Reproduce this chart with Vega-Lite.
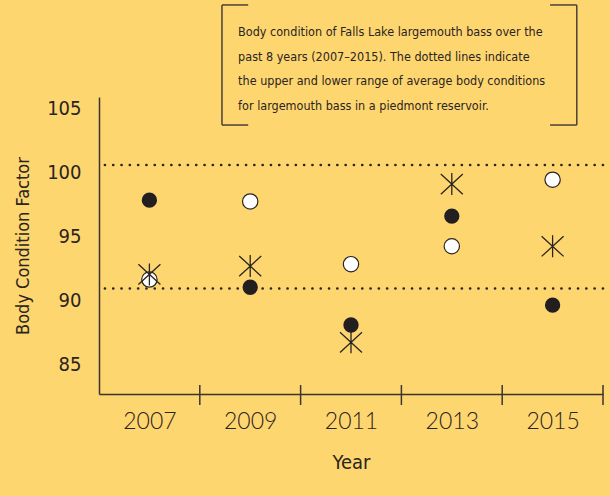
{
  "$schema": "https://vega.github.io/schema/vega-lite/v6.json",
  "autosize": {"type": "none"},
  "width": 504,
  "height": 297,
  "padding": {"left": 99, "top": 97, "right": 7, "bottom": 102},
  "background": "#FED670",
  "config": {
    "view": {"stroke": null},
    "axis": {"grid": false}
  },
  "datasets": {
    "points": [
      {"year": 2007, "type": "filled", "value": 97.8},
      {"year": 2007, "type": "open", "value": 91.6},
      {"year": 2007, "type": "asterisk", "value": 92.0},
      {"year": 2009, "type": "filled", "value": 91.0},
      {"year": 2009, "type": "open", "value": 97.7},
      {"year": 2009, "type": "asterisk", "value": 92.65},
      {"year": 2011, "type": "filled", "value": 88.05},
      {"year": 2011, "type": "open", "value": 92.8},
      {"year": 2011, "type": "asterisk", "value": 86.7},
      {"year": 2013, "type": "filled", "value": 96.56},
      {"year": 2013, "type": "open", "value": 94.2},
      {"year": 2013, "type": "asterisk", "value": 99.06},
      {"year": 2015, "type": "filled", "value": 89.6},
      {"year": 2015, "type": "open", "value": 99.4},
      {"year": 2015, "type": "asterisk", "value": 94.2}
    ],
    "range": [{"bound": "upper", "value": 100.55}, {"bound": "lower", "value": 90.9}],
    "ticks": [{"year": 2008, "top": 83.36, "bottom": 81.8}, {"year": 2010, "top": 83.36, "bottom": 81.8}, {"year": 2012, "top": 83.36, "bottom": 81.8}, {"year": 2014, "top": 83.36, "bottom": 81.8}, {"year": 2016, "top": 83.36, "bottom": 81.8}],
    "bracket": [
      {"x": 2008.44, "x2": 2008.44, "y": 113.05, "y2": 103.67},
      {"x": 2008.44, "x2": 2008.96, "y": 113.05, "y2": 113.05},
      {"x": 2008.44, "x2": 2008.96, "y": 103.67, "y2": 103.67},
      {"x": 2015.48, "x2": 2015.48, "y": 113.05, "y2": 103.67},
      {"x": 2014.95, "x2": 2015.48, "y": 113.05, "y2": 113.05},
      {"x": 2014.95, "x2": 2015.48, "y": 103.67, "y2": 103.67}
    ],
    "note": [
      {"x": 2008.76, "y": 111.4, "text": ["Body condition of Falls Lake largemouth bass over the", "past 8 years (2007\u20132015). The dotted lines indicate", "the upper and lower range of average body conditions", "for largemouth bass in a piedmont reservoir."]}
    ]
  },
  "layer": [
    {
      "data": {"name": "points"},
      "transform": [{"filter": "datum.type === 'filled'"}],
      "mark": {"type": "point", "shape": "circle", "filled": true, "size": 235, "fill": "#231f20", "opacity": 1},
      "encoding": {
        "x": {
          "field": "year", "type": "quantitative",
          "scale": {"domain": [2006, 2016], "nice": false, "zero": false},
          "axis": {
            "values": [2007, 2009, 2011, 2013, 2015],
            "format": "d",
            "ticks": false,
            "domainColor": "#3a3530", "domainWidth": 1.5,
            "labelFont": "Lato", "labelFontWeight": 300, "labelFontSize": 23, "labelColor": "#2a2420",
            "labelPadding": 16,
            "title": "Year", "titleFont": "DejaVu Sans Condensed", "titleFontWeight": "normal",
            "titleFontSize": 20, "titleColor": "#2a2420", "titlePadding": 19
          }
        },
        "y": {
          "field": "value", "type": "quantitative",
          "scale": {"domain": [82.66, 105.86], "nice": false, "zero": false},
          "axis": {
            "values": [85, 90, 95, 100, 105],
            "ticks": false,
            "domainColor": "#3a3530", "domainWidth": 1.5,
            "labelFont": "DejaVu Sans Condensed", "labelFontSize": 20, "labelColor": "#2a2420",
            "labelPadding": 18,
            "title": "Body Condition Factor", "titleFont": "DejaVu Sans Condensed", "titleFontWeight": "normal",
            "titleFontSize": 18, "titleColor": "#2a2420", "titlePadding": 14
          }
        }
      }
    },
    {
      "data": {"name": "range"},
      "mark": {"type": "rule", "strokeDash": [0.1, 8.2], "strokeCap": "round", "strokeWidth": 2.6, "stroke": "#2a2420"},
      "encoding": {"y": {"field": "value", "type": "quantitative"}}
    },
    {
      "data": {"name": "ticks"},
      "mark": {"type": "rule", "strokeWidth": 1.5, "stroke": "#3a3530", "clip": false},
      "encoding": {
        "x": {"field": "year", "type": "quantitative"},
        "y": {"field": "top", "type": "quantitative"},
        "y2": {"field": "bottom"}
      }
    },
    {
      "data": {"name": "bracket"},
      "mark": {"type": "rule", "strokeWidth": 1.5, "stroke": "#4a4038", "clip": false},
      "encoding": {
        "x": {"field": "x", "type": "quantitative"},
        "x2": {"field": "x2"},
        "y": {"field": "y", "type": "quantitative"},
        "y2": {"field": "y2"}
      }
    },
    {
      "data": {"name": "note"},
      "mark": {"type": "text", "align": "left", "baseline": "top", "font": "DejaVu Sans Condensed", "fontSize": 12.5, "lineHeight": 24.5, "color": "#2a2420"},
      "encoding": {
        "x": {"field": "x", "type": "quantitative"},
        "y": {"field": "y", "type": "quantitative"},
        "text": {"field": "text"}
      }
    },
    {
      "data": {"name": "points"},
      "transform": [{"filter": "datum.type === 'open'"}],
      "mark": {"type": "point", "shape": "circle", "filled": true, "size": 235, "fill": "#ffffff", "stroke": "#2a2420", "strokeWidth": 1.2, "opacity": 1},
      "encoding": {
        "x": {"field": "year", "type": "quantitative"},
        "y": {"field": "value", "type": "quantitative"}
      }
    },
    {
      "data": {"name": "points"},
      "transform": [{"filter": "datum.type === 'asterisk'"}],
      "mark": {"type": "point", "shape": "M0,-1L0,1M-1,-0.92L1,0.92M-1,0.92L1,-0.92", "filled": false, "size": 484, "stroke": "#2a2420", "strokeWidth": 1.3, "opacity": 1},
      "encoding": {
        "x": {"field": "year", "type": "quantitative"},
        "y": {"field": "value", "type": "quantitative"}
      }
    }
  ]
}
